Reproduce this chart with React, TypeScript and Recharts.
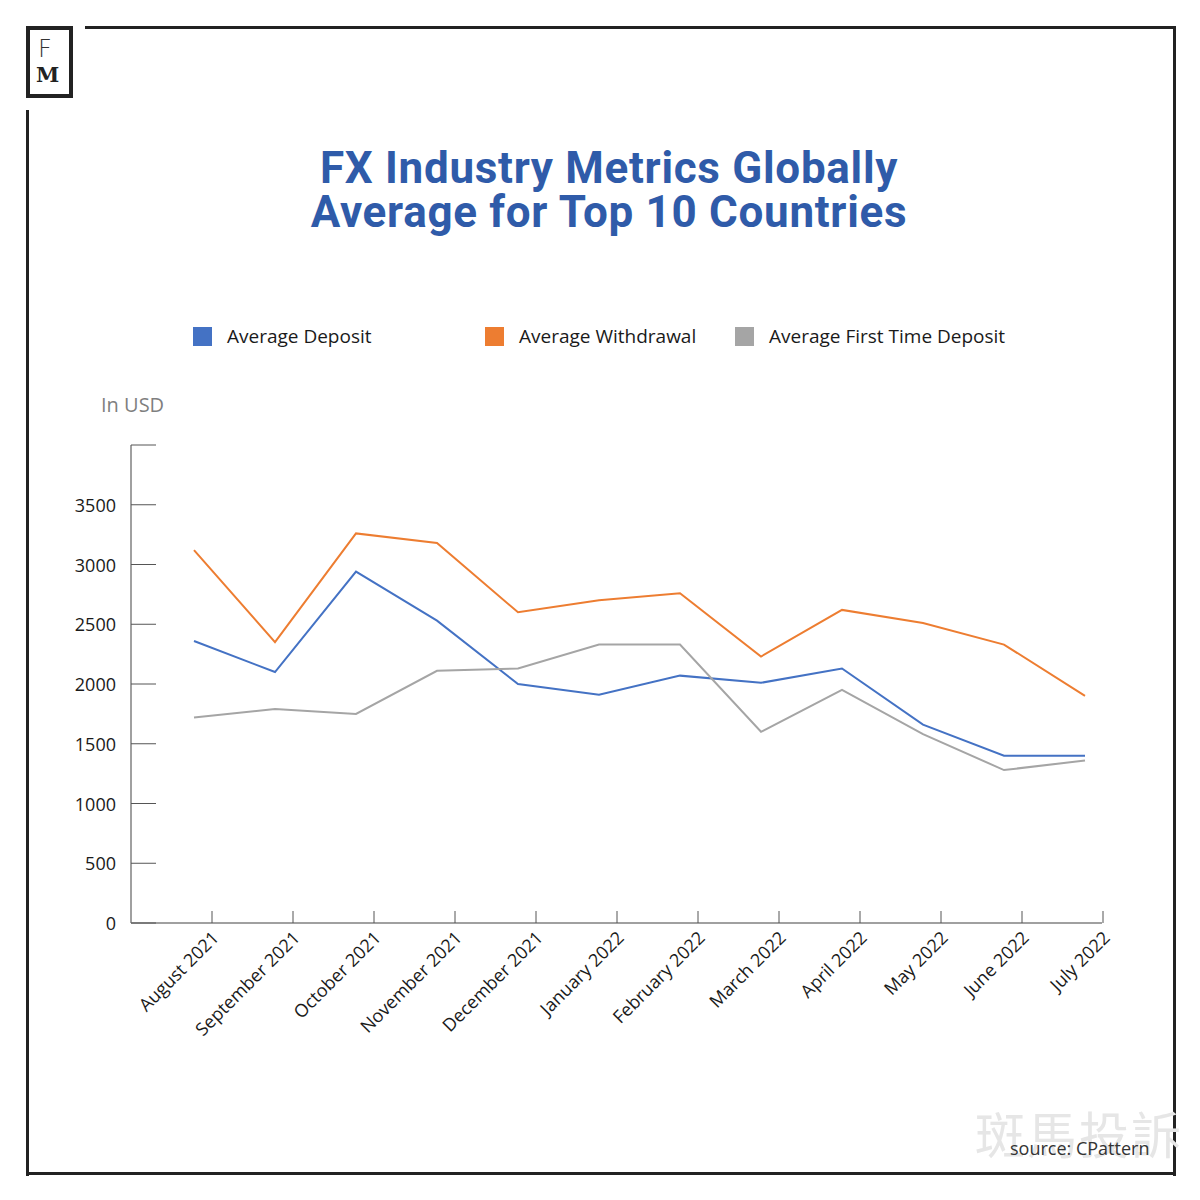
import React from 'react';
import { LineChart, Line, XAxis, YAxis, Legend } from 'recharts';

const months = [
  'August 2021', 'September 2021', 'October 2021', 'November 2021', 'December 2021', 'January 2022',
  'February 2022', 'March 2022', 'April 2022', 'May 2022', 'June 2022', 'July 2022',
];
const avgDeposit = [2360, 2100, 2940, 2530, 2000, 1910, 2070, 2010, 2130, 1660, 1400, 1400];
const avgWithdrawal = [3120, 2350, 3260, 3180, 2600, 2700, 2760, 2230, 2620, 2510, 2330, 1900];
const avgFirstDeposit = [1720, 1790, 1750, 2110, 2130, 2330, 2330, 1600, 1950, 1580, 1280, 1360];
const yTicks = [0, 500, 1000, 1500, 2000, 2500, 3000, 3500, 4000];
const seriesNames = ['Average Deposit', 'Average Withdrawal', 'Average First Time Deposit'];
const seriesColors = ['#4472C4', '#ED7D31', '#A5A5A5'];

const data = months.map((m, i) => ({
  month: m,
  deposit: avgDeposit[i],
  withdrawal: avgWithdrawal[i],
  firstDeposit: avgFirstDeposit[i],
}));

const LABEL_FONT = '"Open Sans", "Noto Sans", sans-serif';
const TICK_SHIFT = 18;

const XTick = (props: any) => {
  const { x, y, payload } = props;
  const tx = x + TICK_SHIFT;
  return (
    <g>
      <line x1={tx} y1={y} x2={tx} y2={y - 12} stroke="#555" strokeWidth={1} />
      <text
        x={tx + 8}
        y={y + 16}
        textAnchor="end"
        transform={`rotate(-45 ${tx + 8} ${y + 16})`}
        fontFamily={LABEL_FONT}
        fontSize={18}
        fill="#1a1a1a"
      >
        {payload.value}
      </text>
    </g>
  );
};

const YTick = (props: any) => {
  const { x, y, payload } = props;
  return (
    <g>
      <line x1={x} y1={y} x2={x + 25} y2={y} stroke="#555" strokeWidth={1} />
      {payload.value !== 4000 && (
        <text x={x - 15} y={y + 7} textAnchor="end" fontFamily={LABEL_FONT} fontSize={18} fill="#1a1a1a">
          {payload.value}
        </text>
      )}
    </g>
  );
};

const LegendContent = () => {
  const widths = [292, 250, 300];
  return (
    <div style={{ display: 'flex', alignItems: 'center' }}>
      {seriesNames.map((name, i) => (
        <div key={name} style={{ display: 'flex', alignItems: 'center', width: widths[i], flexShrink: 0 }}>
          <div style={{ width: 19, height: 19, background: seriesColors[i], marginRight: 15, flexShrink: 0 }} />
          <span style={{ fontFamily: LABEL_FONT, fontSize: 19, color: '#1a1a1a', whiteSpace: 'nowrap' }}>
            {name}
          </span>
        </div>
      ))}
    </div>
  );
};

const titleStyle: React.CSSProperties = {
  position: 'absolute',
  left: 0,
  width: 1218,
  height: 44,
  textAlign: 'center',
  fontFamily: 'Roboto, sans-serif',
  fontWeight: 700,
  fontSize: 44,
  lineHeight: '44px',
  color: '#2f5ba9',
  letterSpacing: 0.7,
  whiteSpace: 'nowrap',
};

export default function App() {
  return (
    <div style={{ position: 'absolute', left: 0, top: 0, width: 1200, height: 1200, background: '#fff', overflow: 'hidden' }}>
      {/* frame */}
      <div style={{ position: 'absolute', left: 85, top: 26, width: 1091, height: 3, background: '#222' }} />
      <div style={{ position: 'absolute', left: 26, top: 110, width: 3, height: 1066, background: '#222' }} />
      <div style={{ position: 'absolute', left: 1173, top: 26, width: 3, height: 1150, background: '#222' }} />
      <div style={{ position: 'absolute', left: 26, top: 1172, width: 1150, height: 3, background: '#222' }} />
      {/* logo */}
      <div style={{ position: 'absolute', left: 26, top: 26, width: 39, height: 64, border: '4px solid #222' }}>
        <div style={{ position: 'absolute', left: 8, top: 7, fontFamily: '"DejaVu Sans", sans-serif', fontWeight: 200, fontSize: 24, color: '#333', lineHeight: '24px' }}>F</div>
        <div style={{ position: 'absolute', left: 6, top: 34, fontFamily: '"DejaVu Serif", serif', fontWeight: 700, fontSize: 21, color: '#222', lineHeight: '22px' }}>M</div>
      </div>
      {/* title */}
      <div style={{ ...titleStyle, top: 146 }}>FX Industry Metrics Globally</div>
      <div style={{ ...titleStyle, top: 190 }}>Average for Top 10 Countries</div>
      {/* y unit */}
      <div style={{ position: 'absolute', left: 101, top: 391, fontFamily: LABEL_FONT, fontSize: 20, color: '#7f7f7f' }}>In USD</div>
      {/* watermark */}
      <div style={{ position: 'absolute', left: 975, top: 1096, fontFamily: '"Noto Sans CJK TC", sans-serif', fontSize: 50, color: '#e6e6e6', letterSpacing: 2 }}>斑馬投訴</div>
      {/* source */}
      <div style={{ position: 'absolute', left: 1010, top: 1136, fontFamily: LABEL_FONT, fontSize: 18, color: '#333' }}>source: CPattern</div>

      <div style={{ position: 'absolute', left: 0, top: 0 }}>
        <LineChart width={1200} height={1200} data={data} margin={{ top: 445, right: 98, bottom: 217, left: 71 }}>
          <XAxis
            dataKey="month"
            height={60}
            padding={{ left: 63, right: 17 }}
            axisLine={{ stroke: '#808080', strokeWidth: 1.5 }}
            tickLine={false}
            tickSize={0}
            tickMargin={0}
            interval={0}
            tick={<XTick />}
          />
          <YAxis
            width={60}
            domain={[0, 4000]}
            ticks={yTicks}
            axisLine={{ stroke: '#808080', strokeWidth: 1.5 }}
            tickLine={false}
            tickSize={0}
            tickMargin={0}
            interval={0}
            tick={<YTick />}
          />
          <Legend
            verticalAlign="middle"
            align="center"
            layout="horizontal"
            content={<LegendContent />}
            wrapperStyle={{ position: 'absolute', top: 323, left: 193, width: 900 }}
          />
          <Line type="linear" dataKey="deposit" name={seriesNames[0]} stroke={seriesColors[0]} strokeWidth={2} dot={false} isAnimationActive={false} />
          <Line type="linear" dataKey="withdrawal" name={seriesNames[1]} stroke={seriesColors[1]} strokeWidth={2} dot={false} isAnimationActive={false} />
          <Line type="linear" dataKey="firstDeposit" name={seriesNames[2]} stroke={seriesColors[2]} strokeWidth={2} dot={false} isAnimationActive={false} />
        </LineChart>
      </div>
    </div>
  );
}
